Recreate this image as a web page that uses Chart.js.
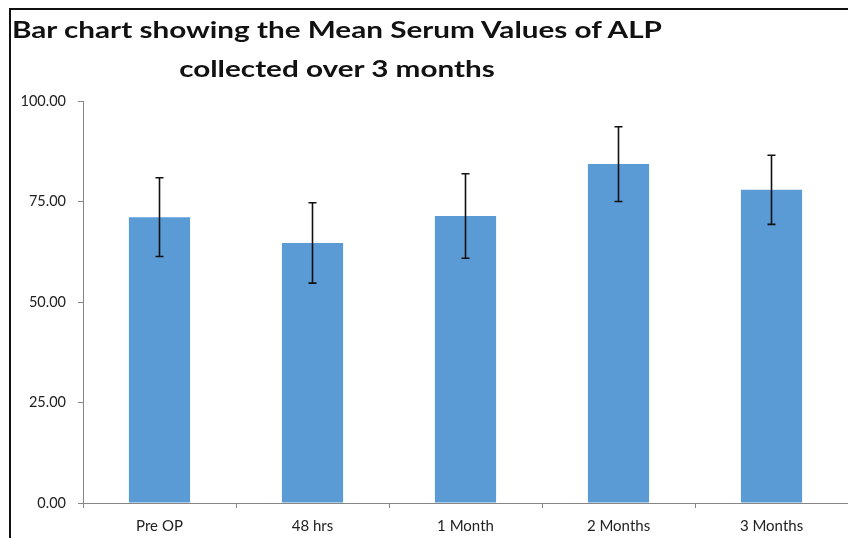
<!DOCTYPE html>
<html>
<head>
<meta charset="utf-8">
<script src="https://cdn.jsdelivr.net/npm/chart.js@4"></script>
<style>
  html, body { margin: 0; padding: 0; background: #fff; overflow: hidden; }
  #wrap { position: relative; width: 848px; height: 538px; }
  #frame { position: absolute; left: 9px; top: 8px; width: 900px; height: 600px;
           border-left: 2px solid #111; border-top: 2px solid #111; }
  #title { position: absolute; left: 0; top: 10px; width: 674px; text-align: center;
           font-family: Lato, "Liberation Sans", sans-serif; font-weight: bold;
           font-size: 23px; line-height: 39px; color: #111;
           transform: scaleX(1.29); transform-origin: 337px 0; }
  canvas { position: absolute; left: 0; top: 0; }
</style>
</head>
<body>
<div id="wrap">
  <canvas id="alpChart" width="848" height="538"></canvas>
  <div id="frame"></div>
  <div id="title">Bar chart showing the Mean Serum Values of ALP<br>collected over 3 months</div>
</div>
<script>
// data
const categories = ["Pre OP", "48 hrs", "1 Month", "2 Months", "3 Months"];
const meanValues = [71.1, 64.7, 71.4, 84.3, 77.9];
const errorValues = [9.8, 10.0, 10.5, 9.3, 8.6];
const yTicks = [0, 25, 50, 75, 100];

// draws the +/- error bars on top of each bar
const errorBars = {
    id: "errorBars",
    afterDatasetsDraw(chart) {
        const ctx = chart.ctx;
        const yScale = chart.scales.y;
        const meta = chart.getDatasetMeta(0);
        ctx.save();
        ctx.strokeStyle = "#111";
        ctx.lineWidth = 1.6;
        meta.data.forEach((bar, i) => {
            const top = yScale.getPixelForValue(meanValues[i] + errorValues[i]);
            const bottom = yScale.getPixelForValue(meanValues[i] - errorValues[i]);
            ctx.beginPath();
            ctx.moveTo(bar.x, top);
            ctx.lineTo(bar.x, bottom);
            ctx.moveTo(bar.x - 4, top);
            ctx.lineTo(bar.x + 4, top);
            ctx.moveTo(bar.x - 4, bottom);
            ctx.lineTo(bar.x + 4, bottom);
            ctx.stroke();
        });
        ctx.restore();
    }
};

new Chart(document.getElementById("alpChart"), {
    type: "bar",
    data: {
        labels: categories,
        datasets: [{
            label: "Mean ALP",
            data: meanValues,
            backgroundColor: "#5B9BD5",
            borderWidth: 0,
            categoryPercentage: 0.4,
            barPercentage: 1.0
        }]
    },
    options: {
        responsive: false,
        animation: false,
        layout: { padding: { top: 101, left: 10, right: 0, bottom: 0 } },
        plugins: {
            legend: { display: false },
            tooltip: { enabled: false }
        },
        scales: {
            x: {
                grid: { drawOnChartArea: false, offset: true, tickLength: 5, color: "#868686" },
                border: { color: "#868686", width: 1 },
                ticks: { color: "#222", font: { family: "Lato", size: 15 }, padding: 9 },
                afterFit(scale) { scale.height = 35; }
            },
            y: {
                min: 0,
                max: 100,
                afterBuildTicks(scale) { scale.ticks = yTicks.map(v => ({ value: v })); },
                grid: { drawOnChartArea: false, tickLength: 5, color: "#868686" },
                border: { color: "#868686", width: 1 },
                ticks: {
                    color: "#222",
                    font: { family: "Lato", size: 14.5 },
                    padding: 12,
                    callback: v => Number(v).toFixed(2)
                },
                afterFit(scale) { scale.width = 73; }
            }
        }
    },
    plugins: [errorBars]
});
</script>
</body>
</html>
